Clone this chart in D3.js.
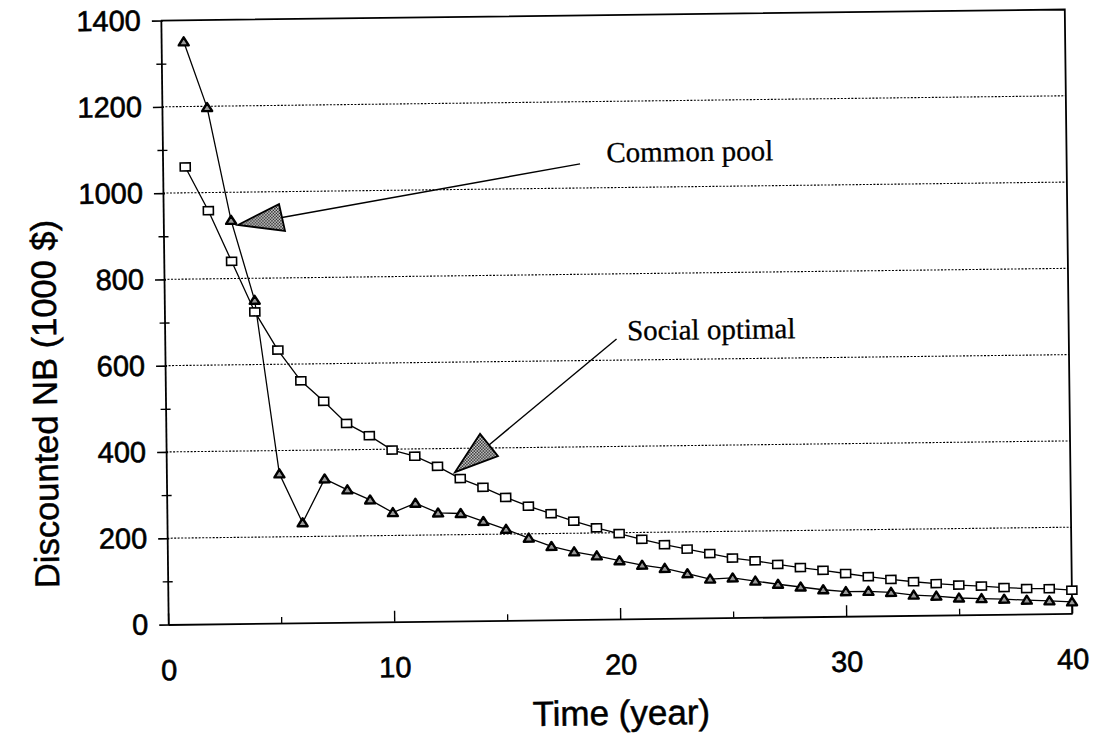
<html>
<head>
<meta charset="utf-8">
<script src="https://d3js.org/d3.v7.min.js"></script>
<style>
  body { margin: 0; background: #fff; }
</style>
</head>
<body>
<svg id="chart" width="1100" height="736"></svg>
<script>

// Values, one per year
var years = [1, 2, 3, 4, 5, 6, 7, 8, 9, 10, 11, 12, 13, 14, 15, 16, 17, 18, 19, 20,
             21, 22, 23, 24, 25, 26, 27, 28, 29, 30, 31, 32, 33, 34, 35, 36, 37, 38, 39, 40];

// Social optimal (squares)
var socialOptimal = [1060, 958, 840, 722, 633, 561, 513, 461, 432, 398,
                     383, 359, 330, 309, 285, 264, 246, 228, 212, 198,
                     184, 171, 160, 149, 138, 131, 122, 114, 107, 99,
                     91, 84, 78, 73, 69, 66, 62, 59, 58, 54];

// Common pool (triangles)
var commonPool = [1350, 1197, 935, 749, 346, 232, 333, 307, 283, 253,
                  274, 251, 249, 230, 211, 190, 170, 157, 147, 135,
                  124, 116, 103, 90, 92, 84, 76, 69, 62, 57,
                  57, 54, 47, 44, 39, 37, 35, 32, 30, 27];

var yTicks = [0, 200, 400, 600, 800, 1000, 1200, 1400];
var yMinorTicks = [100, 300, 500, 700, 900, 1100, 1300];
var xTicks = [0, 10, 20, 30, 40];
var xMinorTicks = [5, 15, 25, 35];

// Callouts, anchored in data units: [year, value]
var callouts = [
  {label: "Common pool", at: [19.64, 1059], from: [18.47, 1056], tip: [3.30, 924], base: [[5.13, 971], [5.38, 909]]},
  {label: "Social optimal", at: [20.46, 646], from: [19.99, 649], tip: [12.77, 345], base: [[13.90, 433], [14.68, 381]]}
];

var margin = {top: 15, right: 31.5, bottom: 117, left: 164.5};
var width = 1100 - margin.left - margin.right;
var height = 736 - margin.top - margin.bottom;

var svg = d3.select("#chart");

// hatch fill for the big arrow heads
var pat = svg.append("defs").append("pattern")
  .attr("id", "hatch")
  .attr("width", 3).attr("height", 3)
  .attr("patternUnits", "userSpaceOnUse");
pat.append("rect").attr("width", 3).attr("height", 3).attr("fill", "#fff");
pat.append("rect").attr("width", 1.5).attr("height", 1.5).attr("fill", "#000");
pat.append("rect").attr("x", 1.5).attr("y", 1.5).attr("width", 1.5).attr("height", 1.5).attr("fill", "#000");

// the scanned page sits slightly tilted, so the whole figure is turned a little
var g = svg.append("g")
  .attr("transform", "rotate(-0.7,616.5,317) translate(" + margin.left + "," + margin.top + ")");

var x = d3.scaleLinear().domain([0, 40]).range([0, width]);
var y = d3.scaleLinear().domain([0, 1400]).range([height, 0]);

// dotted grid lines
g.selectAll(".grid")
  .data(yTicks.filter(function(d) { return d > 0 && d < 1400; }))
  .enter().append("line")
  .attr("class", "grid")
  .attr("x1", 0).attr("x2", width)
  .attr("y1", function(d) { return y(d); })
  .attr("y2", function(d) { return y(d); })
  .attr("stroke", "#000")
  .attr("stroke-width", 1.1)
  .attr("stroke-dasharray", "2,1.5");

// frame top and right
g.append("path")
  .attr("d", "M0,0H" + width + "V" + height)
  .attr("fill", "none")
  .attr("stroke", "#000")
  .attr("stroke-width", 1.8);

var tickFont = "'Liberation Sans', Arial, sans-serif";

// y axis
var yAxis = g.append("g")
  .call(d3.axisLeft(y).tickValues(yTicks).tickSize(9).tickSizeOuter(0).tickPadding(11).tickFormat(d3.format("d")));
yAxis.selectAll(".tick line").attr("x1", 2).attr("stroke-width", 1.6);
yAxis.select(".domain").attr("stroke-width", 1.8);
yAxis.selectAll("text")
  .attr("font-family", tickFont)
  .attr("font-size", 29)
  .attr("fill", "#000")
  .attr("stroke", "#000")
  .attr("stroke-width", 0.6);

var yMinor = g.append("g")
  .call(d3.axisLeft(y).tickValues(yMinorTicks).tickSize(5).tickSizeOuter(0).tickFormat(""));
yMinor.selectAll(".tick line").attr("x1", 5).attr("stroke-width", 1.4);
yMinor.select(".domain").remove();

// x axis, ticks pointing up into the plot
var xAxis = g.append("g")
  .attr("transform", "translate(0," + height + ")")
  .call(d3.axisBottom(x).tickValues(xTicks).tickSize(-11).tickSizeOuter(0).tickPadding(35));
xAxis.selectAll(".tick line").attr("stroke-width", 1.4);
xAxis.select(".domain").attr("stroke-width", 1.8);
xAxis.selectAll("text")
  .attr("font-family", tickFont)
  .attr("font-size", 29)
  .attr("fill", "#000")
  .attr("stroke", "#000")
  .attr("stroke-width", 0.6);

var xMinor = g.append("g")
  .attr("transform", "translate(0," + height + ")")
  .call(d3.axisBottom(x).tickValues(xMinorTicks).tickSize(-6).tickSizeOuter(0).tickFormat(""));
xMinor.selectAll(".tick line").attr("stroke-width", 1.3);
xMinor.select(".domain").remove();

// axis titles
g.append("text")
  .attr("x", x(20))
  .attr("y", height + 106)
  .attr("text-anchor", "middle")
  .attr("font-family", tickFont)
  .attr("font-size", 35)
  .attr("stroke", "#000")
  .attr("stroke-width", 0.5)
  .text("Time (year)");

g.append("text")
  .attr("transform", "translate(-108.5,382) rotate(-90)")
  .attr("text-anchor", "middle")
  .attr("font-family", tickFont)
  .attr("font-size", 34.5)
  .attr("stroke", "#000")
  .attr("stroke-width", 0.5)
  .text("Discounted NB (1000 $)");

// series lines
var line = d3.line()
  .x(function(d) { return x(d[0]); })
  .y(function(d) { return y(d[1]); });

var socialPts = years.map(function(t, i) { return [t, socialOptimal[i]]; });
var commonPts = years.map(function(t, i) { return [t, commonPool[i]]; });

g.append("path").datum(socialPts)
  .attr("d", line).attr("fill", "none").attr("stroke", "#000").attr("stroke-width", 1.3);
g.append("path").datum(commonPts)
  .attr("d", line).attr("fill", "none").attr("stroke", "#000").attr("stroke-width", 1.3);

// markers
g.selectAll(".sq")
  .data(socialPts)
  .enter().append("rect")
  .attr("class", "sq")
  .attr("x", function(d) { return x(d[0]) - 5; })
  .attr("y", function(d) { return y(d[1]) - 4; })
  .attr("width", 10).attr("height", 8)
  .attr("fill", "#fff")
  .attr("stroke", "#000")
  .attr("stroke-width", 1.6);

g.selectAll(".tri")
  .data(commonPts)
  .enter().append("path")
  .attr("class", "tri")
  .attr("d", "M0,-4.5L5,3.5L-5,3.5Z")
  .attr("transform", function(d) { return "translate(" + x(d[0]) + "," + y(d[1]) + ")"; })
  .attr("fill", "#999")
  .attr("stroke", "#000")
  .attr("stroke-width", 2.4)
  .attr("stroke-linejoin", "round");

// callout arrows and labels
callouts.forEach(function(c) {
  var b0 = c.base[0], b1 = c.base[1];
  var mid = [(x(b0[0]) + x(b1[0])) / 2, (y(b0[1]) + y(b1[1])) / 2];
  g.append("line")
    .attr("x1", x(c.from[0])).attr("y1", y(c.from[1]))
    .attr("x2", mid[0]).attr("y2", mid[1])
    .attr("stroke", "#000").attr("stroke-width", 1.4);
  g.append("path")
    .attr("d", "M" + x(c.tip[0]) + "," + y(c.tip[1]) +
               "L" + x(b0[0]) + "," + y(b0[1]) +
               "L" + x(b1[0]) + "," + y(b1[1]) + "Z")
    .attr("fill", "url(#hatch)")
    .attr("stroke", "#000")
    .attr("stroke-width", 1.8);
  g.append("text")
    .attr("x", x(c.at[0]))
    .attr("y", y(c.at[1]))
    .attr("font-family", "'Liberation Serif', 'Times New Roman', serif")
    .attr("font-size", 29)
    .attr("stroke", "#000")
    .attr("stroke-width", 0.3)
    .text(c.label);
});

</script>
</body>
</html>
